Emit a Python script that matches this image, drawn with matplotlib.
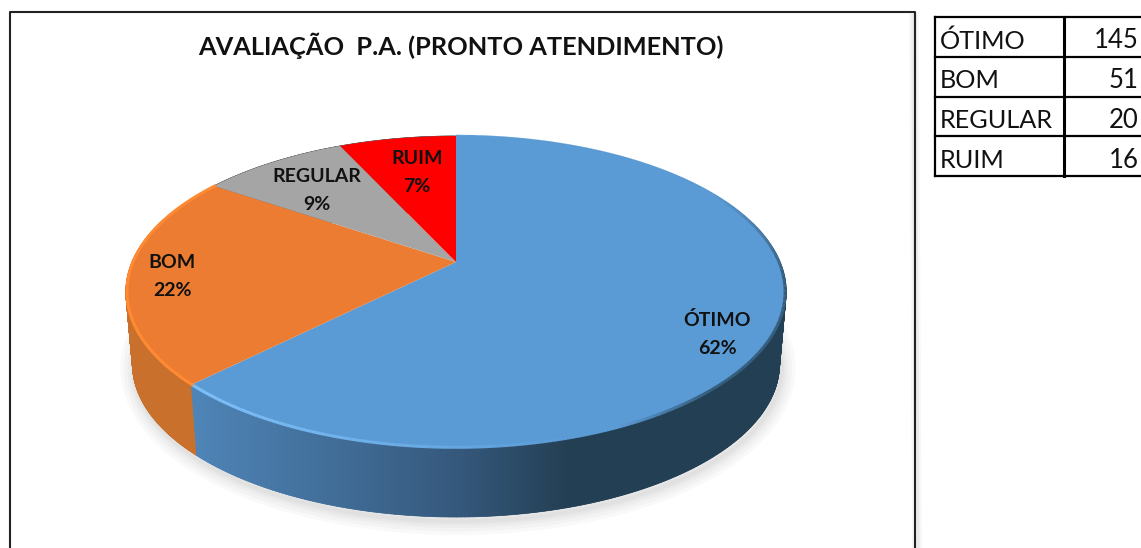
import numpy as np
import matplotlib
matplotlib.use('Agg')
import matplotlib.pyplot as plt
from matplotlib.collections import LineCollection, PolyCollection
from matplotlib.patches import Polygon

# data
categories = ['ÓTIMO', 'BOM', 'REGULAR', 'RUIM']
values = [145, 51, 20, 16]
percent_labels = ['62%', '22%', '9%', '7%']
title = 'AVALIAÇÃO  P.A. (PRONTO ATENDIMENTO)'

top_colors = ['#5b9bd5', '#eb7c31', '#a5a5a5', '#ff0000']
label_pos = [(717, 334), (172, 276), (317, 191), (417, 173)]

plt.rcParams['font.family'] = ['Lato', 'DejaVu Sans']

fig = plt.figure(figsize=(11.41, 5.48), dpi=100)
ax = fig.add_axes([0, 0, 1, 1])


# pie lying down, seen in perspective; angle is clockwise from 12 o'clock
def project(ang, r=1.0):
    u = r * np.sin(ang)
    v = r * np.cos(ang)
    d = 1 + 0.1923 * v
    return 456 + 324 * u / d, (262 - 99.85 * v) / d


def lower(x, y):
    return 456 + (x - 456) * 0.98, y * 0.98 + 78


def mix(c1, c2, t):
    return tuple(np.array(c1) * (1 - t) + np.array(c2) * t)


def wall_color(i, x):
    if i == 0:
        if x < 456:
            return mix((0.31, 0.52, 0.72), (0.21, 0.35, 0.49), np.clip((x - 195) / 261, 0, 1))
        return mix((0.21, 0.35, 0.49), (0.14, 0.25, 0.33), min((x - 456) / 110, 1))
    if i == 1:
        return (0.79, 0.44, 0.175)
    return (0.4, 0.4, 0.4)


edges = np.cumsum([0] + values) / sum(values) * 2 * np.pi

# soft shadow under the pie
a = np.linspace(np.pi * 0.3, np.pi * 1.75, 300)
sx, sy = lower(*project(a))
for w in [20, 15, 10, 6, 3]:
    ax.plot(sx + 2, sy + 4, color='k', alpha=0.022, lw=w, zorder=1, solid_capstyle='round')

# side wall: quads give the silhouette, gradient image on top keeps it free of seams
px = np.arange(0, 1141)
for i in range(len(values)):
    a = np.linspace(edges[i], edges[i + 1], 400)
    x, y = project(a)
    xb, yb = lower(x, y)
    quads = []
    cols = []
    for j in range(len(a) - 1):
        quads.append([(x[j], y[j]), (x[j + 1], y[j + 1]), (xb[j + 1], yb[j + 1]), (xb[j], yb[j])])
        cols.append(wall_color(i, x[j]))
    ax.add_collection(PolyCollection(quads, facecolors=cols, edgecolors=cols, linewidths=0.5, zorder=1.5))
    outline = np.c_[np.r_[x, xb[::-1]], np.r_[y, yb[::-1]]]
    patch = Polygon(outline, closed=True, facecolor='none', edgecolor='none', transform=ax.transData)
    ax.add_patch(patch)
    grad = np.array([[wall_color(i, v) for v in px]])
    im = ax.imshow(grad, extent=(0, 1141, 548, 0), aspect='auto', zorder=2, interpolation='bilinear')
    im.set_clip_path(patch)

# top face
for i in range(len(values)):
    a = np.linspace(edges[i], edges[i + 1], 300)
    x, y = project(a)
    ax.fill(np.r_[456, x], np.r_[262, y], color=top_colors[i], lw=0, zorder=3)

# bevel along the rim
a = np.linspace(edges[0], edges[1], 500)
x, y = project(a, 0.997)
segs = [[(x[j], y[j]), (x[j + 1], y[j + 1])] for j in range(len(a) - 1)]
cols = []
for j in range(len(a) - 1):
    deg = np.degrees(a[j])
    if deg < 60:
        cols.append((0.36, 0.61, 0.84))
    elif deg < 95:
        cols.append(mix((0.36, 0.61, 0.84), (0.20, 0.35, 0.47), (deg - 60) / 35))
    elif x[j] >= 620:
        t = np.clip((x[j] - 620) / 90, 0, 1)
        cols.append(mix((0.36, 0.61, 0.84), (0.20, 0.35, 0.47), t))
    else:
        t = np.clip((x[j] - 195) / 380, 0, 1)
        cols.append(mix((0.50, 0.76, 0.98), (0.36, 0.61, 0.84), t))
ax.add_collection(LineCollection(segs, colors=cols, linewidths=2.2, zorder=4))
a = np.linspace(edges[1], edges[2], 300)
x, y = project(a, 0.997)
ax.plot(x, y, color='#ff8a33', lw=2.2, zorder=4)

# labels
for i in range(len(categories)):
    lx, ly = label_pos[i]
    ax.text(lx, ly - 14, categories[i], ha='center', va='center', fontsize=14,
            fontweight='bold', color='#111111', zorder=5)
    ax.text(lx, ly + 14, percent_labels[i], ha='center', va='center', fontsize=14,
            fontweight='bold', color='#111111', zorder=5)

# chart frame, runs off the bottom of the picture
for w, al in [(7, 0.03), (4, 0.05)]:
    ax.plot([914, 917], [16, 560], color='k', lw=w, alpha=al, zorder=0)
ax.plot([10, 10, 915, 915], [560, 12, 12, 560], color='#222222', lw=1.5, zorder=6)
ax.text(461, 46, title, ha='center', va='center', fontsize=18.3, fontweight='bold',
        color='#111111', zorder=6)

# small table
row_y = np.linspace(17, 176, len(categories) + 1)
for ry in row_y:
    ax.plot([934.5, 1141], [ry, ry], color='k', lw=1.6, zorder=6)
ax.plot([934.5, 934.5], [17, 176], color='k', lw=1.6, zorder=6)
ax.plot([1063.5, 1063.5], [17, 176], color='k', lw=2.2, zorder=6)
for i in range(len(categories)):
    yc = (row_y[i] + row_y[i + 1]) / 2
    ax.text(940, yc + 4, categories[i], ha='left', va='center', fontsize=18.2, color='#111111')
    ax.text(1139, yc + 4, str(values[i]), ha='right', va='center', fontsize=18.5, color='#111111')

ax.set_xlim(0, 1141)
ax.set_ylim(548, 0)
ax.axis('off')

fig.savefig('out.png', dpi=100)
